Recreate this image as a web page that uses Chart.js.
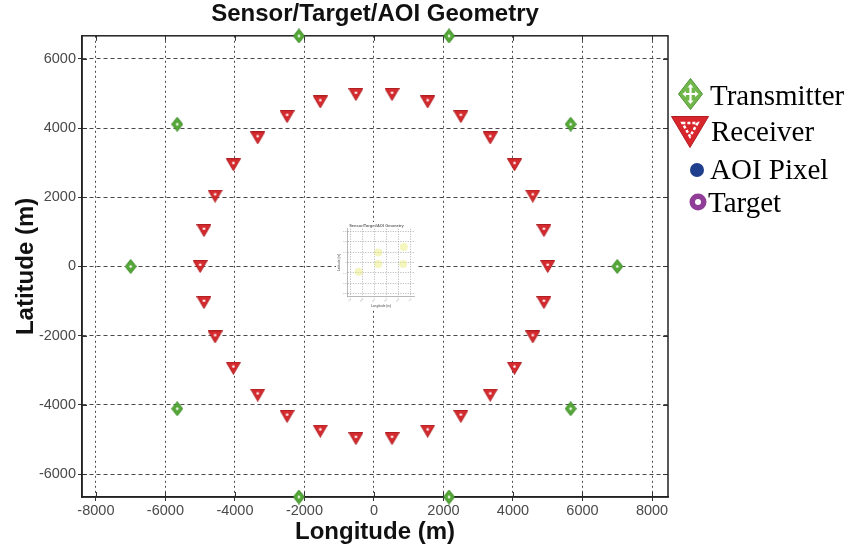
<!DOCTYPE html>
<html lang="en">
<head>
  <meta charset="UTF-8">
  <title>Sensor/Target/AOI Geometry</title>
  <script src="https://cdn.jsdelivr.net/npm/chart.js"></script>
  <style>
    body { margin: 0; background: #fff; }
    #wrap { position: relative; width: 850px; height: 550px; }
    #inset { position: absolute; left: 336px; top: 222px; width: 82px; height: 86px; background: #fff; }
  </style>
</head>
<body>
  <div id="wrap">
    <canvas id="chart"></canvas>
    <div id="inset"><canvas id="mini"></canvas></div>
  </div>

  <script>
    // values
    const txX = [7000, 5660, 2160, -2160, -5660, -7000, -5660, -2160, 2160, 5660];
    const txY = [0, 4110, 6660, 6660, 4110, 0, -4110, -6660, -6660, -4110];

    const rxX = [5000, 4890, 4570, 4045, 3345, 2500, 1545, 520, -520, -1545, -2500, -3345, -4045, -4570, -4890,
                 -5000, -4890, -4570, -4045, -3345, -2500, -1545, -520, 520, 1545, 2500, 3345, 4045, 4570, 4890];
    const rxY = [0, 1040, 2035, 2940, 3715, 4330, 4755, 4970, 4970, 4755, 4330, 3715, 2940, 2035, 1040,
                 0, -1040, -2035, -2940, -3715, -4330, -4755, -4970, -4970, -4755, -4330, -3715, -2940, -2035, -1040];

    const xTicks = [-8000, -6000, -4000, -2000, 0, 2000, 4000, 6000, 8000];
    const yTicks = [-6000, -4000, -2000, 0, 2000, 4000, 6000];

    const legendNames = ['Transmitter', 'Receiver', 'AOI Pixel', 'Target'];

    // small picture in the middle
    const miniXTicks = [-1, -0.8, -0.6, -0.4, -0.2, 0, 0.2, 0.4, 0.6, 0.8, 1];
    const miniYTicks = [-1.2, -1, -0.8, -0.6, -0.4, -0.2, 0, 0.2, 0.4, 0.6, 0.8, 1, 1.2];
    const miniSpotX = [0.76, -0.09, -0.09, 0.74, -0.74];
    const miniSpotY = [0.6, 0.39, -0.06, -0.06, -0.36];

    const sans = "'Liberation Sans', Arial, sans-serif";
    const serif = "'Liberation Serif', 'Times New Roman', serif";

    function icon(w, h, draw) {
      const c = document.createElement('canvas');
      c.width = w;
      c.height = h;
      draw(c.getContext('2d'), w, h);
      return c;
    }

    function diamond(ctx, w, h, fill, stroke) {
      ctx.beginPath();
      ctx.moveTo(w / 2, 0.5);
      ctx.lineTo(w - 0.5, h / 2);
      ctx.lineTo(w / 2, h - 0.5);
      ctx.lineTo(0.5, h / 2);
      ctx.closePath();
      ctx.fillStyle = fill;
      ctx.fill();
      ctx.strokeStyle = stroke;
      ctx.lineWidth = 1;
      ctx.stroke();
    }

    function triangle(ctx, w, h, fill, stroke) {
      ctx.beginPath();
      ctx.moveTo(0.5, 0.5);
      ctx.lineTo(w - 0.5, 0.5);
      ctx.lineTo(w / 2, h - 0.5);
      ctx.closePath();
      ctx.fillStyle = fill;
      ctx.fill();
      ctx.strokeStyle = stroke;
      ctx.lineWidth = 1;
      ctx.stroke();
    }

    const txIcon = icon(12, 15, (ctx, w, h) => {
      diamond(ctx, w, h, '#55a838', '#3c8a28');
      ctx.fillStyle = '#fff';
      ctx.beginPath(); ctx.arc(w / 2, h / 2, 1.3, 0, Math.PI * 2); ctx.fill();
    });

    const rxIcon = icon(15, 13, (ctx, w, h) => {
      triangle(ctx, w, h, '#d52a2e', '#b01e22');
      ctx.fillStyle = '#fff';
      ctx.beginPath(); ctx.arc(w / 2, h * 0.36, 1.3, 0, Math.PI * 2); ctx.fill();
    });

    const legendIcons = [
      icon(25, 32, (ctx, w, h) => {
        diamond(ctx, w, h, '#72b74c', '#4f9636');
        const cx = w / 2, cy = h / 2;
        ctx.strokeStyle = '#fff';
        ctx.lineWidth = 2.2;
        ctx.beginPath();
        ctx.moveTo(cx - 6, cy); ctx.lineTo(cx + 6, cy);
        ctx.moveTo(cx, cy - 8); ctx.lineTo(cx, cy + 8);
        ctx.stroke();
        ctx.fillStyle = '#fff';
        [[cx - 8, cy, -1, 0], [cx + 8, cy, 1, 0], [cx, cy - 10, 0, -1], [cx, cy + 10, 0, 1]].forEach(([px, py, dx, dy]) => {
          ctx.beginPath();
          ctx.moveTo(px, py);
          ctx.lineTo(px - dx * 3.5 - dy * 3, py - dy * 3.5 - dx * 3);
          ctx.lineTo(px - dx * 3.5 + dy * 3, py - dy * 3.5 + dx * 3);
          ctx.closePath();
          ctx.fill();
        });
      }),
      icon(38, 32, (ctx, w, h) => {
        triangle(ctx, w, h, '#d8262c', '#b21d22');
        ctx.strokeStyle = '#fff';
        ctx.lineWidth = 2.5;
        ctx.setLineDash([3, 2]);
        ctx.beginPath();
        ctx.moveTo(w * 0.3, h * 0.22);
        ctx.lineTo(w * 0.7, h * 0.22);
        ctx.lineTo(w / 2, h * 0.64);
        ctx.closePath();
        ctx.stroke();
      }),
      icon(16, 16, (ctx, w, h) => {
        ctx.fillStyle = '#1f3f8c';
        ctx.beginPath(); ctx.arc(w / 2, h / 2, 7, 0, Math.PI * 2); ctx.fill();
      }),
      icon(18, 18, (ctx, w, h) => {
        ctx.fillStyle = '#8f3d96';
        ctx.beginPath(); ctx.arc(w / 2, h / 2, 8.5, 0, Math.PI * 2); ctx.fill();
        ctx.fillStyle = '#fff';
        ctx.beginPath(); ctx.arc(w / 2, h / 2, 3, 0, Math.PI * 2); ctx.fill();
      })
    ];

    // legend rows: icon centre, text start, text cap centre
    const legendRows = [
      { ix: 690, iy: 94, tx: 710, ty: 95 },
      { ix: 690, iy: 132, tx: 711, ty: 131 },
      { ix: 697, iy: 170, tx: 710, ty: 169 },
      { ix: 698, iy: 202, tx: 708, ty: 202 }
    ];

    // box round the plot and the short inward tick marks
    const framePlugin = {
      id: 'frame',
      beforeDatasetsDraw(chart) {
        const { ctx, chartArea: a, scales: { x, y } } = chart;
        ctx.save();
        ctx.strokeStyle = '#333';
        ctx.lineWidth = 1;
        ctx.beginPath();
        x.ticks.forEach(t => {
          const px = Math.round(x.getPixelForValue(t.value)) + 0.5;
          ctx.moveTo(px, a.bottom); ctx.lineTo(px, a.bottom - 5);
          ctx.moveTo(px, a.top); ctx.lineTo(px, a.top + 5);
        });
        y.ticks.forEach(t => {
          const py = Math.round(y.getPixelForValue(t.value)) + 0.5;
          ctx.moveTo(a.left, py); ctx.lineTo(a.left + 5, py);
          ctx.moveTo(a.right, py); ctx.lineTo(a.right - 5, py);
        });
        ctx.stroke();
        ctx.lineWidth = 1.5;
        ctx.strokeStyle = '#222';
        ctx.strokeRect(a.left, a.top, a.right - a.left, a.bottom - a.top);
        ctx.restore();
      }
    };

    const legendPlugin = {
      id: 'sideLegend',
      afterDraw(chart) {
        const ctx = chart.ctx;
        const size = 29;
        ctx.save();
        ctx.font = size + 'px ' + serif;
        ctx.fillStyle = '#000';
        ctx.textBaseline = 'alphabetic';
        legendNames.forEach((name, i) => {
          const r = legendRows[i];
          const img = legendIcons[i];
          ctx.drawImage(img, Math.round(r.ix - img.width / 2), Math.round(r.iy - img.height / 2));
          ctx.fillText(name, r.tx, r.ty + size * 0.331);
        });
        ctx.restore();
      }
    };

    new Chart(document.getElementById('chart'), {
      type: 'scatter',
      data: {
        datasets: [
          {
            label: legendNames[0],
            data: txX.map((v, i) => ({ x: v, y: txY[i] })),
            pointStyle: txIcon,
            pointRadius: 7,
            clip: false
          },
          {
            label: legendNames[1],
            data: rxX.map((v, i) => ({ x: v, y: rxY[i] })),
            pointStyle: rxIcon,
            pointRadius: 7,
            clip: false
          },
          { label: legendNames[2], data: [] },
          { label: legendNames[3], data: [] }
        ]
      },
      options: {
        responsive: true,
        maintainAspectRatio: false,
        animation: false,
        events: [],
        layout: { padding: { left: 0, right: 182, top: 0, bottom: 0 } },
        scales: {
          x: {
            type: 'linear',
            min: -8400,
            max: 8460,
            afterBuildTicks: s => { s.ticks = xTicks.map(v => ({ value: v })); },
            afterFit: s => { s.height = 53; },
            ticks: {
              callback: v => String(v),
              font: { family: sans, size: 14.5 },
              color: '#4a4a4a',
              padding: 1
            },
            grid: { color: '#4a4a4a', lineWidth: 1, tickLength: 4, tickColor: '#333', tickBorderDash: [] },
            border: { display: true, color: '#222', width: 1.5, dash: [2, 3] },
            title: {
              display: true,
              text: 'Longitude (m)',
              font: { family: sans, size: 24, weight: 'bold' },
              color: '#111',
              padding: { top: 0, bottom: 3 }
            }
          },
          y: {
            type: 'linear',
            min: -6660,
            max: 6665,
            afterBuildTicks: s => { s.ticks = yTicks.map(v => ({ value: v })); },
            afterFit: s => { s.width = 82; },
            ticks: {
              callback: v => String(v),
              font: { family: sans, size: 14.5 },
              color: '#4a4a4a',
              padding: 2
            },
            grid: { color: '#4a4a4a', lineWidth: 1, tickLength: 4, tickColor: '#333', tickBorderDash: [] },
            border: { display: true, color: '#222', width: 1.5, dash: [4, 3] },
            title: {
              display: true,
              text: 'Latitude (m)',
              font: { family: sans, size: 24, weight: 'bold' },
              color: '#111',
              padding: { top: 12, bottom: 0 }
            }
          }
        },
        plugins: {
          legend: { display: false },
          tooltip: { enabled: false },
          title: {
            display: true,
            fullSize: false,
            text: 'Sensor/Target/AOI Geometry',
            font: { family: sans, size: 24, weight: 'bold' },
            color: '#111',
            padding: { top: 0, bottom: 7 }
          }
        }
      },
      plugins: [framePlugin, legendPlugin]
    });

    // the faint small chart pasted in the middle of the plot
    new Chart(document.getElementById('mini'), {
      type: 'scatter',
      data: {
        datasets: [{
          data: miniSpotX.map((v, i) => ({ x: v, y: miniSpotY[i] })),
          backgroundColor: 'rgba(230, 236, 110, 0.45)',
          borderWidth: 0,
          pointRadius: 4
        }]
      },
      options: {
        responsive: true,
        maintainAspectRatio: false,
        animation: false,
        events: [],
        layout: { padding: { left: 1, right: 2, top: 0, bottom: 0 } },
        scales: {
          x: {
            type: 'linear',
            min: -1.1,
            max: 1.1,
            afterBuildTicks: s => { s.ticks = miniXTicks.map(v => ({ value: v })); },
            ticks: { font: { family: sans, size: 2.5 }, color: '#999', padding: 0.5 },
            grid: { color: '#a0a0a0', lineWidth: 0.8, tickLength: 1 },
            border: { display: true, color: '#888', width: 0.6, dash: [1, 1.5] },
            title: { display: true, text: 'Longitude (m)', font: { family: sans, size: 3, weight: 'bold' }, color: '#777', padding: 0.5 }
          },
          y: {
            type: 'linear',
            min: -1.3,
            max: 1.3,
            afterBuildTicks: s => { s.ticks = miniYTicks.map(v => ({ value: v })); },
            ticks: { font: { family: sans, size: 2.5 }, color: '#999', padding: 0.5 },
            grid: { color: '#a0a0a0', lineWidth: 0.8, tickLength: 1 },
            border: { display: true, color: '#888', width: 0.6, dash: [1, 1.5] },
            title: { display: true, text: 'Latitude (m)', font: { family: sans, size: 3, weight: 'bold' }, color: '#777', padding: 0.5 }
          }
        },
        plugins: {
          legend: { display: false },
          tooltip: { enabled: false },
          title: {
            display: true,
            text: 'Sensor/Target/AOI Geometry',
            font: { family: sans, size: 4, weight: 'bold' },
            color: '#666',
            padding: { top: 1, bottom: 1 }
          }
        }
      }
    });
  </script>
</body>
</html>
